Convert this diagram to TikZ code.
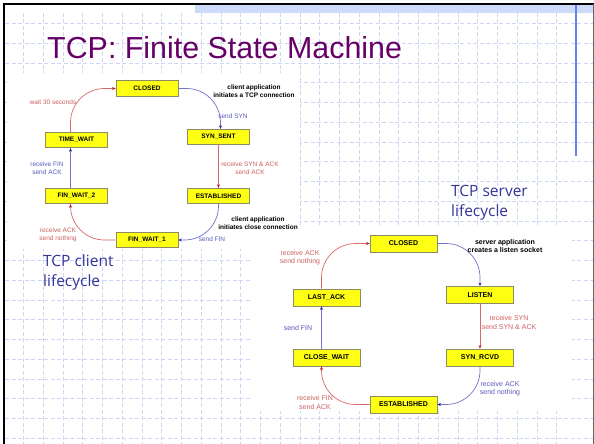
\documentclass[tikz,border=0pt]{standalone}
\usepackage{fontspec}
\setmainfont{Liberation Sans}
\newfontfamily\lifefont{Open Sans}
\usepackage{xcolor}
\usepackage{tikz}
\usetikzlibrary{arrows.meta}

\definecolor{titlepurple}{RGB}{102,0,102}
\definecolor{lifeblue}{RGB}{51,51,153}
\definecolor{gridblue}{RGB}{205,215,245}
\definecolor{bandblue}{RGB}{205,218,250}
\definecolor{barblue}{RGB}{100,130,240}
\definecolor{boxyellow}{RGB}{255,255,20}
\definecolor{boxedge}{RGB}{140,140,100}
\definecolor{edgered}{RGB}{215,105,105}
\definecolor{edgeblue}{RGB}{115,115,205}
\definecolor{tipred}{RGB}{185,25,25}
\definecolor{tipblue}{RGB}{30,30,150}
\definecolor{lblred}{RGB}{205,95,95}
\definecolor{lblblue}{RGB}{90,90,190}

\tikzstyle{gridline} = [gridblue, line width=0.6pt, dash pattern=on 4pt off 2.5pt]
\tikzstyle{cstate} = [draw=boxedge, fill=boxyellow, line width=0.8pt, inner sep=0pt, minimum width=62pt, minimum height=15.5pt, font=\bfseries\fontsize{6.5}{7.5}\selectfont]
\tikzstyle{sstate} = [cstate, minimum width=67pt, minimum height=17pt, font=\bfseries\fontsize{7}{8}\selectfont]
\tikzstyle{redarrow} = [draw=edgered, line width=0.7pt, rounded corners=34pt, -{Stealth[length=3.5pt,width=3pt,color=tipred]}]
\tikzstyle{bluearrow} = [draw=edgeblue, line width=0.7pt, rounded corners=34pt, -{Stealth[length=3.5pt,width=3pt,color=tipblue]}]
\tikzstyle{redlbl} = [text=lblred, align=center, inner sep=0pt]
\tikzstyle{bluelbl} = [text=lblblue, align=center, inner sep=0pt]
\tikzstyle{boldlbl} = [text=black, align=center, inner sep=0pt]
\tikzstyle{lifelbl} = [text=lifeblue, align=left, inner sep=0pt, anchor=north west, font=\lifefont\fontsize{15.5}{20}\selectfont]

\begin{document}
\begin{tikzpicture}[x=1pt,y=-1pt]
	\useasboundingbox (0,0) rectangle (594,444);
	
	% Slide background:
	% dashed grid, the band at the top and the frame
	\foreach \k in {0,...,21}
	{
		\draw [gridline] (5,{23.5+19.75*\k}) -- (594,{23.5+19.75*\k});
	}
	\foreach \k in {0,...,27}
	{
		\draw [gridline] ({23.5+19.75*\k},13) -- ({23.5+19.75*\k},444);
	}
	\fill [bandblue] (195,5) rectangle (594,13);
	\draw [barblue, line width=1.2pt] (576,5) -- (576,156);
	\draw [line width=2pt] (4,444) -- (4,4) -- (594,4);
	\draw [black!60, line width=0.8pt] (593,4) -- (593,444);
	
	% The two pasted diagrams sit on white
	\fill [white] (7,73) rectangle (300,249);
	\fill [white] (252,225) rectangle (572,411);
	
	\node [anchor=base west, inner sep=0pt, text=titlepurple, font=\fontsize{30.4}{32}\selectfont] (title) at (47,59) {TCP: Finite State Machine};
	
	% Client side
	\begin{scope}[font=\fontsize{6.5}{8}\selectfont]
		
		\node [cstate] (cClosed) at (147,88.5) {CLOSED};
		\node [cstate] (cSynSent) at (218.5,137) {SYN\_SENT};
		\node [cstate] (cEstab) at (218.5,196) {ESTABLISHED};
		\node [cstate] (cFinOne) at (147,240) {FIN\_WAIT\_1};
		\node [cstate] (cFinTwo) at (76.5,196) {FIN\_WAIT\_2};
		\node [cstate] (cTimeWait) at (76.5,140) {TIME\_WAIT};
		
		\draw [bluearrow] (cClosed.east) -| ([xshift=2pt]cSynSent.north);
		\draw [redarrow] (cSynSent.south) -- (cEstab.north);
		\draw [bluearrow] (cEstab.south) |- (cFinOne.east);
		\draw [redarrow] (cFinOne.west) -| ([xshift=-6pt]cFinTwo.south);
		\draw [bluearrow] ([xshift=-6pt]cFinTwo.north) -- ([xshift=-6pt]cTimeWait.south);
		\draw [redarrow] ([xshift=-6pt]cTimeWait.north) |- (cClosed.west);
		
		\node [boldlbl, font=\bfseries\fontsize{6.5}{8}\selectfont] (cOpenNote) at (254,91) {client application\\initiates a TCP connection};
		\node [bluelbl] (cSendSyn) at (233,116) {send SYN};
		\node [redlbl] (cSynAck) at (250,168) {receive SYN \& ACK\\send ACK};
		\node [boldlbl, font=\bfseries\fontsize{6.5}{8}\selectfont] (cCloseNote) at (258,223) {client application\\initiates close connection};
		\node [bluelbl] (cSendFin) at (212,239) {send FIN};
		\node [redlbl] (cRcvAck) at (58,235) {receive ACK\\send nothing};
		\node [bluelbl] (cRcvFin) at (47,168) {receive FIN\\send ACK};
		\node [redlbl] (cWait) at (53,102) {wait 30 seconds};
		
	\end{scope}
	
	% Server side
	\begin{scope}[font=\fontsize{7}{8.5}\selectfont]
		
		\node [sstate] (sClosed) at (403.5,243.5) {CLOSED};
		\node [sstate] (sListen) at (480,295) {LISTEN};
		\node [sstate] (sSynRcvd) at (480,357.5) {SYN\_RCVD};
		\node [sstate] (sEstab) at (403.5,404.5) {ESTABLISHED};
		\node [sstate] (sCloseWait) at (326.5,357.5) {CLOSE\_WAIT};
		\node [sstate] (sLastAck) at (326.5,297.5) {LAST\_ACK};
		
		\draw [bluearrow] (sClosed.east) -| (sListen.north);
		\draw [redarrow] (sListen.south) -- (sSynRcvd.north);
		\draw [bluearrow] (sSynRcvd.south) |- (sEstab.east);
		\draw [redarrow] (sEstab.west) -| ([xshift=-5pt]sCloseWait.south);
		\draw [bluearrow] ([xshift=-5pt]sCloseWait.north) -- ([xshift=-5pt]sLastAck.south);
		\draw [redarrow] ([xshift=-5pt]sLastAck.north) |- (sClosed.west);
		
		\node [boldlbl, font=\bfseries\fontsize{7}{8}\selectfont] (sOpenNote) at (505,245.5) {server application\\creates a listen socket};
		\node [redlbl] (sRcvSyn) at (509,322.5) {receive SYN\\send SYN \& ACK};
		\node [bluelbl] (sRcvAck) at (500,388.5) {receive ACK\\send nothing};
		\node [redlbl] (sRcvFin) at (315,402.5) {receive FIN\\send ACK};
		\node [bluelbl] (sSendFin) at (298,328) {send FIN};
		\node [redlbl] (sLastNote) at (300,257.5) {receive ACK\\send nothing};
		
	\end{scope}
	
	\node [lifelbl] (clientLife) at (43,255) {TCP client\\lifecycle};
	\node [lifelbl] (serverLife) at (451,185) {TCP server\\lifecycle};
	
\end{tikzpicture}
\end{document}
